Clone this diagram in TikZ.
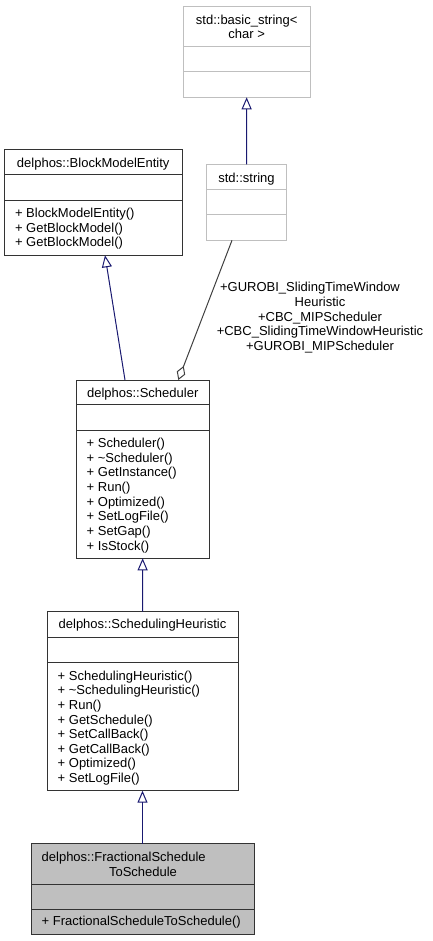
\documentclass[tikz,border=0pt]{standalone}
\usepackage{fontspec}
\setmainfont{Liberation Sans}
\usetikzlibrary{arrows.meta,calc}
\definecolor{edgeblue}{HTML}{191970}
\definecolor{aggc}{HTML}{404040}
\definecolor{boxgray}{HTML}{BFBFBF}
\definecolor{frameline}{HTML}{333333}
\tikzset{
  every node/.style={font=\fontsize{13}{14.6}\selectfont},
  cpart/.style={draw=frameline, line width=1pt, inner sep=0pt, outer sep=0pt, anchor=north west},
  gpart/.style={draw=boxgray, line width=1pt, inner sep=0pt, outer sep=0pt, anchor=north west},
  fpart/.style={cpart, fill=boxgray},
  txt/.style={inner sep=0pt, outer sep=0pt, anchor=base},
  txtl/.style={inner sep=0pt, outer sep=0pt, anchor=base west},
  inh/.style={draw=edgeblue, line width=1pt, -{Triangle[open,length=12pt,width=10pt]}},
  agg/.style={draw=aggc, line width=1pt, -{Diamond[open,length=15pt,width=9pt]}},
}
\begin{document}
\begin{tikzpicture}[x=1pt,y=-1pt]
\useasboundingbox (0,0) rectangle (432,941);

% std::basic_string< char >
\node[gpart, minimum width=126.7pt, minimum height=40pt] (bstrT) at (183.3,6.7) {};
\node[gpart, minimum width=126.7pt, minimum height=25pt] (bstrA) at (183.3,46.7) {};
\node[gpart, minimum width=126.7pt, minimum height=25.6pt] (bstrO) at (183.3,71.7) {};
\node[txt] (bstrL1) at (246.7,24.5) {std::basic\_string<};
\node[txt] (bstrL2) at (246.7,38.2) {char >};

% std::string
\node[gpart, minimum width=79.6pt, minimum height=25.7pt] (strT) at (206.7,164.3) {};
\node[gpart, minimum width=79.6pt, minimum height=25pt] (strA) at (206.7,190) {};
\node[gpart, minimum width=79.6pt, minimum height=25.3pt] (strO) at (206.7,215) {};
\node[txt] (strL) at (246.5,182.2) {std::string};

% delphos::BlockModelEntity
\node[cpart, minimum width=177.7pt, minimum height=25pt] (bmeT) at (4.3,150) {};
\node[cpart, minimum width=177.7pt, minimum height=25.7pt] (bmeA) at (4.3,175) {};
\node[cpart, minimum width=177.7pt, minimum height=54.6pt] (bmeO) at (4.3,200.7) {};
\node[txt] (bmeL) at (93.2,167.2) {delphos::BlockModelEntity};
\node[txtl] (bmeM1) at (15,217.8) {+ BlockModelEntity()};
\node[txtl] (bmeM2) at (15,232.2) {+ GetBlockModel()};
\node[txtl] (bmeM3) at (15,246.4) {+ GetBlockModel()};

% delphos::Scheduler
\node[cpart, minimum width=133.3pt, minimum height=24.7pt] (schedT) at (76,380) {};
\node[cpart, minimum width=133.3pt, minimum height=26pt] (schedA) at (76,404.7) {};
\node[cpart, minimum width=133.3pt, minimum height=127.6pt] (schedO) at (76,430.7) {};
\node[txt] (schedL) at (142.7,397.3) {delphos::Scheduler};
\node[txtl] (schedM1) at (86.7,447.5) {+ Scheduler()};
\node[txtl] (schedM2) at (86.7,462.15) {+ \textasciitilde Scheduler()};
\node[txtl] (schedM3) at (86.7,476.8) {+ GetInstance()};
\node[txtl] (schedM4) at (86.7,491.45) {+ Run()};
\node[txtl] (schedM5) at (86.7,506.1) {+ Optimized()};
\node[txtl] (schedM6) at (86.7,520.75) {+ SetLogFile()};
\node[txtl] (schedM7) at (86.7,535.4) {+ SetGap()};
\node[txtl] (schedM8) at (86.7,550.05) {+ IsStock()};

% delphos::SchedulingHeuristic
\node[cpart, minimum width=191pt, minimum height=25.6pt] (heurT) at (47,611.7) {};
\node[cpart, minimum width=191pt, minimum height=25.2pt] (heurA) at (47,637.3) {};
\node[cpart, minimum width=191pt, minimum height=128.2pt] (heurO) at (47,662.5) {};
\node[txt] (heurL) at (142.5,628.8) {delphos::SchedulingHeuristic};
\node[txtl] (heurM1) at (57.7,680.2) {+ SchedulingHeuristic()};
\node[txtl] (heurM2) at (57.7,694.8) {+ \textasciitilde SchedulingHeuristic()};
\node[txtl] (heurM3) at (57.7,709.4) {+ Run()};
\node[txtl] (heurM4) at (57.7,724) {+ GetSchedule()};
\node[txtl] (heurM5) at (57.7,738.6) {+ SetCallBack()};
\node[txtl] (heurM6) at (57.7,753.2) {+ GetCallBack()};
\node[txtl] (heurM7) at (57.7,767.8) {+ Optimized()};
\node[txtl] (heurM8) at (57.7,782.4) {+ SetLogFile()};

% delphos::FractionalScheduleToSchedule
\node[fpart, minimum width=223pt, minimum height=40.3pt] (fracT) at (31,843.7) {};
\node[fpart, minimum width=223pt, minimum height=25pt] (fracA) at (31,884) {};
\node[fpart, minimum width=223pt, minimum height=25.7pt] (fracO) at (31,909) {};
\node[txtl] (fracL1) at (41.7,861.2) {delphos::FractionalSchedule};
\node[txt] (fracL2) at (143,876.2) {ToSchedule};
\node[txtl] (fracM1) at (41.7,925.8) {+ FractionalScheduleToSchedule()};

% connectors
\draw[inh] (strT.north) -- (bstrO.south);
\draw[inh] ($(schedT.north west)+(49,0)$) -- ($(bmeO.south west)+(100.7,0)$);
\draw[agg] ($(strO.south west)+(25.3,0)$) -- ($(schedT.north west)+(102.3,0)$);
\draw[inh] (heurT.north) -- (schedO.south);
\draw[inh] (fracT.north) -- (heurO.south);

% aggregation label
\node[txt] (aggL1) at (310,291.5) {+GUROBI\_SlidingTimeWindow};
\node[txt] (aggL2) at (320,306.3) {Heuristic};
\node[txt] (aggL3) at (320,321.1) {+CBC\_MIPScheduler};
\node[txt] (aggL4) at (320,335.9) {+CBC\_SlidingTimeWindowHeuristic};
\node[txt] (aggL5) at (320,350.7) {+GUROBI\_MIPScheduler};
\end{tikzpicture}
\end{document}
